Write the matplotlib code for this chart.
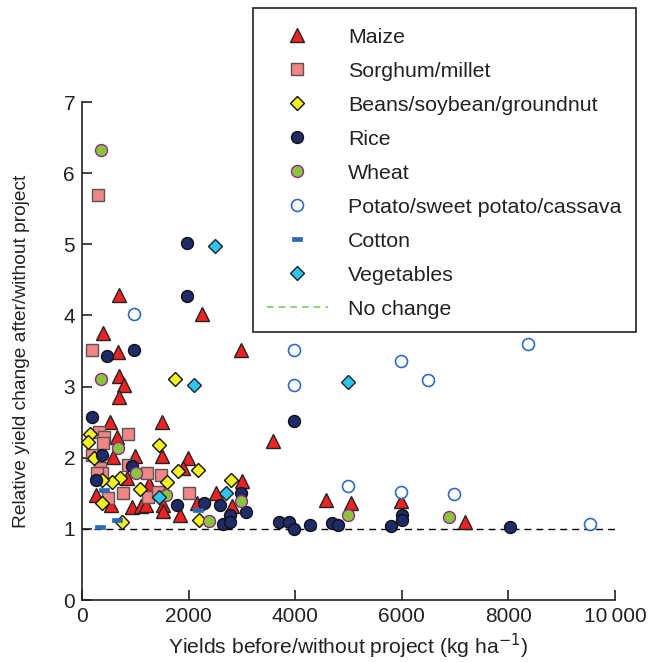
import matplotlib
matplotlib.use("Agg")
import matplotlib.pyplot as plt
from matplotlib.lines import Line2D
from matplotlib.patches import Rectangle

plt.rcParams['font.family'] = ['Liberation Sans', 'DejaVu Sans']

# ---- data (yield before, kg/ha ; relative change) ----
maize_x = [700, 387, 669, 693, 793, 2249, 2985, 693, 525, 1505, 662, 993, 1493, 587, 1993,
           3585, 1899, 1262, 837, 2993, 257, 537, 931, 1106, 1199, 1518, 1518, 1843, 2505,
           2149, 2817, 4586, 5054, 5978, 7177]
maize_y = [4.29, 3.75, 3.49, 3.15, 3.02, 4.02, 3.51, 2.86, 2.50, 2.50, 2.29, 2.02, 2.02, 2.01, 2.00,
           2.23, 1.85, 1.63, 1.71, 1.67, 1.47, 1.33, 1.31, 1.32, 1.33, 1.33, 1.25, 1.19, 1.50,
           1.36, 1.32, 1.40, 1.37, 1.39, 1.10]

sorghum_x = [306, 193, 319, 412, 387, 868, 181, 337, 369, 275, 868, 1212, 1480, 774, 493, 1243, 1430, 2008]
sorghum_y = [5.69, 3.51, 2.36, 2.29, 2.20, 2.33, 2.04, 1.85, 1.78, 1.78, 1.90, 1.78, 1.76, 1.51, 1.43, 1.45, 1.52, 1.51]

beans_x = [1743, 150, 118, 1449, 230, 1793, 2180, 1587, 712, 568, 369, 1087, 369, 2792, 744, 2199]
beans_y = [3.10, 2.34, 2.22, 2.18, 2.00, 1.81, 1.83, 1.66, 1.71, 1.66, 1.68, 1.56, 1.37, 1.69, 1.10, 1.12]

rice_x = [1974, 1974, 474, 980, 193, 369, 931, 257, 1780, 2280, 2586, 2977, 3080, 2780, 2648, 2774,
          3700, 3879, 3979, 4286, 4692, 4805, 5791, 6003, 6010, 8034, 3973]
rice_y = [5.02, 4.27, 3.43, 3.52, 2.57, 2.04, 1.88, 1.69, 1.33, 1.37, 1.33, 1.51, 1.24, 1.19, 1.07, 1.10,
          1.09, 1.09, 1.00, 1.06, 1.08, 1.05, 1.04, 1.19, 1.13, 1.03, 2.52]

wheat_x = [350, 350, 681, 1012, 1574, 2974, 2380, 4991, 6883]
wheat_y = [6.32, 3.10, 2.13, 1.79, 1.47, 1.39, 1.11, 1.20, 1.16]

potato_x = [980, 3979, 3979, 5978, 6490, 8377, 4991, 5978, 6971, 9533]
potato_y = [4.02, 3.52, 3.02, 3.36, 3.09, 3.60, 1.60, 1.52, 1.49, 1.07]

cotton_x = [412, 660, 330, 2168]
cotton_y = [1.55, 1.12, 1.02, 1.26]

veg_x = [2492, 2099, 4985, 1437, 2693]
veg_y = [4.98, 3.02, 3.07, 1.45, 1.50]

labels = ["Maize", "Sorghum/millet", "Beans/soybean/groundnut", "Rice", "Wheat",
          "Potato/sweet potato/cassava", "Cotton", "Vegetables", "No change"]
x_ticks = [0, 2000, 4000, 6000, 8000, 10000]
x_ticklabels = ["0", "2000", "4000", "6000", "8000", "10\u2009000"]
y_ticks = [0, 1, 2, 3, 4, 5, 6, 7]

cotton_marker = [(-1, -0.45), (1, -0.45), (1, 0.45), (-1, 0.45), (-1, -0.45)]

styles = [
    dict(marker='^', ms=9.8, mfc='#ee2222', mec='#222222', mew=1.0),
    dict(marker='s', ms=8.0, mfc='#f28585', mec='#555555', mew=1.0),
    dict(marker='D', ms=7.0, mfc='#f2f222', mec='#111111', mew=1.0),
    dict(marker='o', ms=8.6, mfc='#1e2b68', mec='#111111', mew=1.0),
    dict(marker='o', ms=8.6, mfc='#8cc43c', mec='#8a2a86', mew=1.0),
    dict(marker='o', ms=8.6, mfc='white', mec='#2f6cc0', mew=1.2),
    dict(marker=cotton_marker, ms=7.5, mfc='#2a68b8', mec='#2a68b8', mew=0.5),
    dict(marker='D', ms=7.0, mfc='#2fc4ef', mec='#222222', mew=1.0),
]
series = [(maize_x, maize_y), (sorghum_x, sorghum_y), (beans_x, beans_y), (rice_x, rice_y),
          (wheat_x, wheat_y), (potato_x, potato_y), (cotton_x, cotton_y), (veg_x, veg_y)]

W, H = 648, 662
fig = plt.figure(figsize=(W/100, H/100), dpi=100)
ax = fig.add_axes([82/W, 1-600/H, (615-82)/W, (600-102)/H])

ax.plot([0, 10000], [1, 1], ls=(0, (5, 3.6)), color='black', lw=1.0, zorder=1)
for (xs, ys), st in zip(series, styles):
    ax.plot(xs, ys, ls='none', zorder=3, **st)

ax.set_xlim(0, 10000)
ax.set_ylim(0, 7)
ax.set_xticks(x_ticks)
ax.set_xticklabels(x_ticklabels)
ax.set_yticks(y_ticks)
for s in ['top', 'right']:
    ax.spines[s].set_visible(False)
for s in ['left', 'bottom']:
    ax.spines[s].set_linewidth(1.2)
    ax.spines[s].set_color('#222222')
ax.tick_params(direction='in', length=7, width=1.2, labelsize=15, pad=5, colors='#222222')
ax.set_xlabel("Yields before/without project (kg ha$^{-1}$)", fontsize=15.2, color='#222222', labelpad=4)
ax.set_ylabel("Relative yield change after/without project", fontsize=13.8, color='#222222', labelpad=24)

handles = []
for st in styles:
    handles.append(Line2D([], [], ls='none', **st))
handles.append(Line2D([], [], ls=(0, (4, 3)), color='#77cc66', lw=1.2))

# legend frame drawn separately for exact placement
fig.add_artist(Rectangle((253/W, 1-332/H), (636-253)/W, (332-8)/H, transform=fig.transFigure,
                         facecolor='white', edgecolor='#222222', lw=1.2, zorder=4))
leg = fig.legend(handles, labels, loc='upper left', bbox_to_anchor=(253/W, 1-14/H),
                 borderaxespad=0, fontsize=15.4, frameon=False,
                 handlelength=2.85, handletextpad=0.93,
                 labelspacing=0.70, borderpad=0.65)
leg.set_zorder(5)
for t in leg.get_texts():
    t.set_color('#222222')

fig.savefig("out.png", dpi=100)
